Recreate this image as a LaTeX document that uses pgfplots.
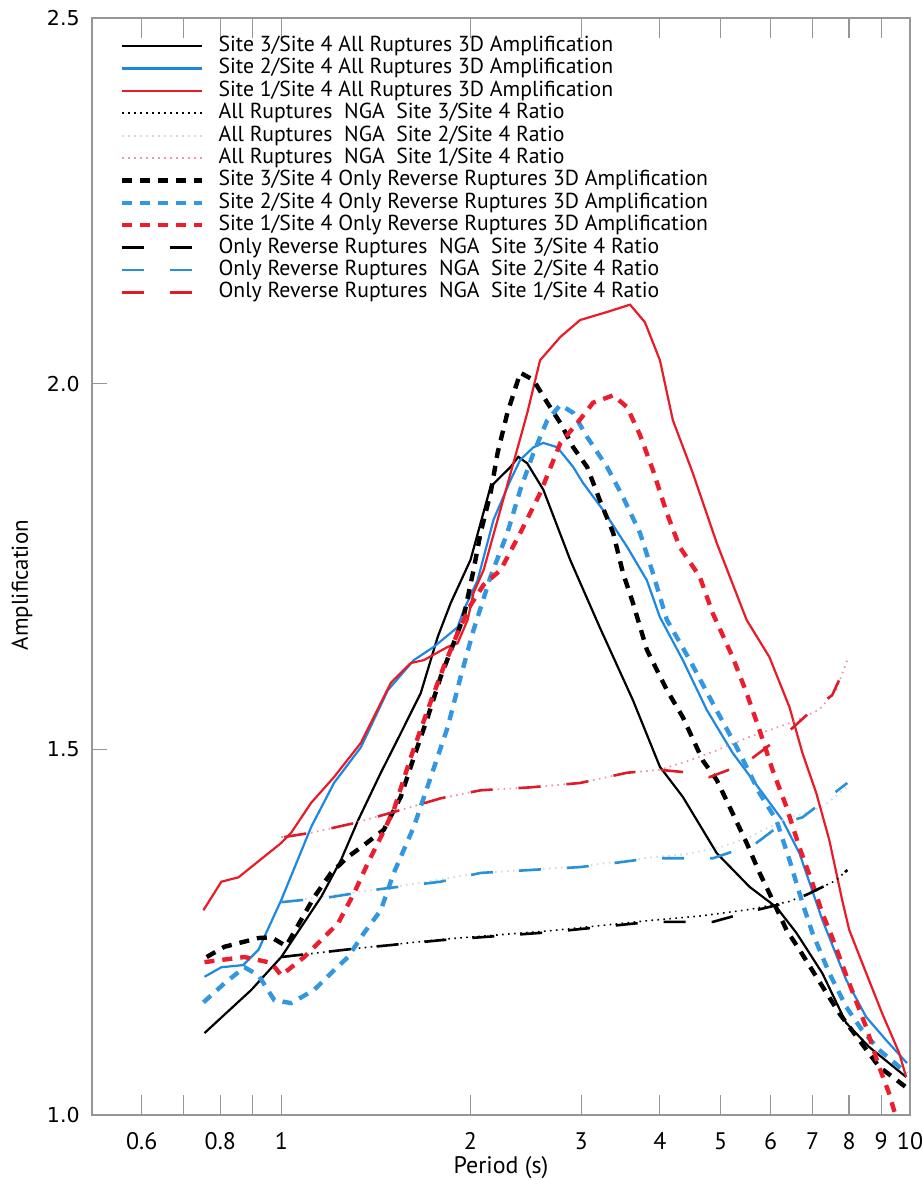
\documentclass[border=0pt]{standalone}
\usepackage{pgfplots}
\pgfplotsset{compat=1.18}
\usepackage{fontspec}
\setmainfont{PT Sans}
\newfontfamily\ytfont{DejaVu Sans}
\definecolor{cblue}{RGB}{30,136,225}
\definecolor{cred}{RGB}{232,28,40}
\definecolor{cbluedash}{RGB}{50,150,225}
\definecolor{creddash}{RGB}{236,30,45}
\definecolor{lightblue}{RGB}{205,218,238}
\definecolor{pinkdot}{RGB}{240,150,165}
\definecolor{ngablue}{RGB}{40,145,215}
\definecolor{ngared}{RGB}{222,28,40}
\definecolor{framegray}{RGB}{150,150,150}
\begin{document}
\begin{tikzpicture}
\begin{axis}[
  name=ax,
  scale only axis, width=409bp, height=548.5bp,
  xmode=log, xmin=0.5, xmax=10, ymin=1.0, ymax=2.5,
  xtick={0.6,0.7,0.8,0.9,1,2,3,4,5,6,7,8,9,10},
  xticklabels={0.6,,0.8,,1,2,3,4,5,6,7,8,9,10},
  minor xtick={},
  ytick={1,1.5,2,2.5},
  yticklabels={1.0,1.5,2.0,2.5},
  minor ytick={},
  tick align=inside,
  xtick pos=both, ytick pos=left,
  xtick style={framegray, line width=0.6bp, /pgfplots/major tick length=10bp},
  ytick style={framegray, line width=0.6bp, /pgfplots/major tick length=7.5bp},
  axis line style={framegray, line width=0.6bp},
  xticklabel style={font=\fontsize{12}{12}\selectfont, anchor=center, yshift=-13bp, inner sep=0pt},
  yticklabel style={font=\ytfont\fontsize{10.3}{10.3}\selectfont, anchor=east, inner sep=0pt, xshift=-6bp},
  xlabel={Period (s)},
  ylabel={Amplification},
  xlabel style={font=\fontsize{12}{12}\selectfont, at={(axis description cs:0.5,-0.0483)}, anchor=center, inner sep=0pt},
  ylabel style={font=\fontsize{11.5}{11.5}\selectfont, at={(axis description cs:-0.0856,0.483)}, anchor=center, inner sep=0pt},
  legend image code/.code={\draw[#1] (0bp,0bp) -- (40bp,0bp);},
  legend cell align=left,
  legend style={at={(axis description cs:0.034,0.985)}, anchor=north west, draw=none, fill=none,
    inner sep=0pt, font=\fontsize{10.9}{10.9}\selectfont, row sep=0pt,
    nodes={text height=7.7bp, text depth=2.2bp, inner ysep=0.65bp, inner xsep=0pt},
    /tikz/every odd column/.append style={column sep=7bp}},
]
% 1 Site 3/Site 4 All 3D
\addplot[black, line width=1.1bp] coordinates {(0.755,1.112)(0.896,1.171)(1.0,1.216)(1.157,1.298)(1.245,1.349)(1.325,1.403)(1.44,1.468)(1.549,1.522)(1.667,1.577)(1.774,1.654)(1.860,1.700)(2.0,1.759)(2.152,1.859)(2.315,1.886)(2.383,1.900)(2.462,1.891)(2.611,1.855)(2.881,1.759)(3.21,1.667)(3.626,1.567)(4.002,1.476)(4.352,1.435)(4.928,1.358)(5.556,1.312)(6.133,1.284)(6.597,1.249)(7.253,1.194)(7.916,1.126)(8.61,1.093)(9.86,1.052)};
\addlegendentry{Site 3/Site 4 All Ruptures 3D Amplification}
% 2 Site 2/Site 4 All 3D
\addplot[cblue, line width=1.1bp] coordinates {(0.755,1.189)(0.803,1.202)(0.870,1.205)(0.920,1.226)(1.0,1.294)(1.116,1.394)(1.213,1.454)(1.339,1.503)(1.478,1.581)(1.625,1.622)(1.748,1.640)(1.908,1.667)(1.950,1.690)(2.052,1.731)(2.176,1.814)(2.315,1.868)(2.40,1.896)(2.518,1.913)(2.611,1.919)(2.748,1.913)(2.913,1.886)(3.021,1.864)(3.251,1.827)(3.548,1.777)(3.816,1.731)(4.0,1.681)(4.352,1.622)(4.750,1.554)(5.224,1.495)(5.83,1.440)(6.27,1.403)(6.67,1.358)(7.253,1.267)(7.916,1.185)(8.518,1.134)(9.16,1.1025)(9.89,1.071)};
\addlegendentry{Site 2/Site 4 All Ruptures 3D Amplification}
% 3 Site 1/Site 4 All 3D
\addplot[cred, line width=1.1bp] coordinates {(0.752,1.280)(0.803,1.319)(0.855,1.325)(1.0,1.372)(1.037,1.386)(1.116,1.427)(1.213,1.462)(1.339,1.509)(1.494,1.591)(1.607,1.618)(1.686,1.622)(1.839,1.640)(1.908,1.645)(1.979,1.677)(2.022,1.714)(2.098,1.745)(2.341,1.892)(2.462,1.960)(2.58,2.032)(2.78,2.064)(2.988,2.087)(3.298,2.098)(3.587,2.108)(3.788,2.084)(4.002,2.032)(4.196,1.950)(4.513,1.878)(4.928,1.782)(5.497,1.677)(5.977,1.626)(6.43,1.558)(6.745,1.495)(7.096,1.440)(7.441,1.376)(7.80,1.294)(8.005,1.253)(8.518,1.194)(9.03,1.139)(9.61,1.085)(9.86,1.052)};
\addlegendentry{Site 1/Site 4 All Ruptures 3D Amplification}
% 4 All NGA Site 3
\addplot[black, line width=0.8bp, dash pattern=on 0.8bp off 2.2bp] coordinates {(1.0,1.216)(1.325,1.228)(1.793,1.240)(2.679,1.252)(3.858,1.266)(4.63,1.272)(5.556,1.281)(6.43,1.292)(6.92,1.303)(7.63,1.321)(7.95,1.335)};
\addlegendentry{All Ruptures\ \ NGA\ \ Site 3/Site 4 Ratio}
% 5 All NGA Site 2
\addplot[lightblue, line width=0.9bp, dash pattern=on 0.8bp off 2.2bp] coordinates {(1.0,1.291)(1.44,1.309)(2.075,1.331)(2.988,1.340)(3.858,1.352)(4.35,1.356)(4.99,1.366)(5.556,1.380)(6.27,1.403)(7.253,1.421)(7.92,1.448)};
\addlegendentry{All Ruptures\ \ NGA\ \ Site 2/Site 4 Ratio}
% 6 All NGA Site 1
\addplot[pinkdot, line width=0.9bp, dash pattern=on 0.8bp off 2.2bp] coordinates {(1.0,1.380)(1.116,1.386)(1.305,1.399)(1.549,1.417)(1.793,1.433)(2.075,1.444)(2.49,1.448)(2.988,1.454)(3.548,1.468)(4.0,1.472)(4.465,1.485)(4.94,1.499)(5.556,1.517)(6.50,1.537)(7.17,1.554)(7.63,1.581)(7.95,1.622)};
\addlegendentry{All Ruptures\ \ NGA\ \ Site 1/Site 4 Ratio}
% 7 Site 3 Reverse 3D
\addplot[black, line width=2.2bp, dash pattern=on 5bp off 4bp] coordinates {(0.761,1.216)(0.812,1.230)(0.920,1.242)(0.964,1.243)(1.018,1.231)(1.128,1.298)(1.200,1.331)(1.277,1.353)(1.339,1.366)(1.456,1.390)(1.549,1.435)(1.625,1.489)(1.710,1.544)(1.793,1.599)(1.880,1.645)(1.950,1.681)(2.022,1.745)(2.075,1.796)(2.152,1.850)(2.208,1.905)(2.289,1.960)(2.40,2.015)(2.518,2.005)(2.649,1.974)(2.78,1.946)(2.913,1.913)(3.066,1.886)(3.21,1.841)(3.372,1.796)(3.496,1.741)(3.626,1.700)(3.816,1.636)(4.105,1.581)(4.352,1.544)(4.68,1.485)(4.928,1.458)(5.167,1.421)(5.497,1.372)(5.765,1.331)(5.977,1.303)(6.362,1.253)(6.67,1.226)(7.096,1.189)(7.72,1.139)(8.30,1.1025)(8.93,1.066)(9.89,1.037)};
\addlegendentry{Site 3/Site 4 Only Reverse Ruptures 3D Amplification}
% 8 Site 2 Reverse 3D
\addplot[cbluedash, line width=2.2bp, dash pattern=on 5bp off 4bp] coordinates {(0.752,1.154)(0.812,1.180)(0.874,1.202)(0.920,1.191)(0.975,1.157)(1.037,1.153)(1.128,1.171)(1.200,1.194)(1.277,1.216)(1.354,1.249)(1.44,1.280)(1.510,1.331)(1.625,1.394)(1.729,1.462)(1.839,1.530)(1.929,1.599)(2.022,1.663)(2.152,1.736)(2.289,1.796)(2.40,1.855)(2.518,1.905)(2.649,1.950)(2.78,1.971)(2.913,1.960)(3.066,1.927)(3.298,1.886)(3.496,1.845)(3.72,1.796)(3.90,1.741)(4.105,1.677)(4.465,1.622)(4.856,1.563)(5.30,1.503)(5.765,1.440)(6.133,1.403)(6.43,1.349)(6.745,1.290)(6.996,1.249)(7.441,1.194)(7.916,1.148)(8.39,1.116)(8.93,1.089)(9.61,1.066)(9.89,1.057)};
\addlegendentry{Site 2/Site 4 Only Reverse Ruptures 3D Amplification}
% 9 Site 1 Reverse 3D
\addplot[creddash, line width=2.2bp, dash pattern=on 5bp off 4bp] coordinates {(0.755,1.209)(0.803,1.212)(0.874,1.216)(0.964,1.208)(1.0,1.191)(1.088,1.216)(1.157,1.239)(1.231,1.262)(1.305,1.303)(1.374,1.345)(1.44,1.380)(1.510,1.417)(1.607,1.489)(1.710,1.554)(1.813,1.613)(1.908,1.659)(2.0,1.697)(2.098,1.725)(2.232,1.745)(2.40,1.796)(2.58,1.850)(2.78,1.919)(2.956,1.946)(3.133,1.974)(3.372,1.984)(3.548,1.968)(3.72,1.930)(3.90,1.882)(4.105,1.823)(4.30,1.777)(4.63,1.736)(4.856,1.686)(5.224,1.626)(5.497,1.577)(5.765,1.526)(6.044,1.472)(6.362,1.421)(6.67,1.366)(6.996,1.317)(7.253,1.276)(7.52,1.243)(8.005,1.180)(8.518,1.120)(8.93,1.066)(9.26,1.030)(9.78,0.960)};
\addlegendentry{Site 1/Site 4 Only Reverse Ruptures 3D Amplification}
% 10 Reverse NGA Site 3
\addplot[black, line width=1.3bp, dash pattern=on 11bp off 13bp] coordinates {(1.0,1.216)(1.325,1.228)(1.793,1.239)(2.679,1.250)(3.858,1.264)(4.856,1.264)(5.556,1.278)(6.43,1.291)(6.92,1.303)(7.63,1.321)(7.95,1.335)};
\addlegendentry{Only Reverse Ruptures\ \ NGA\ \ Site 3/Site 4 Ratio}
% 11 Reverse NGA Site 2
\addplot[ngablue, line width=1.3bp, dash pattern=on 11bp off 13bp] coordinates {(1.0,1.291)(1.200,1.298)(1.44,1.309)(1.793,1.319)(2.075,1.331)(2.988,1.339)(3.42,1.345)(3.858,1.351)(4.856,1.351)(5.30,1.362)(5.70,1.372)(6.27,1.399)(6.745,1.407)(7.441,1.435)(7.95,1.454)};
\addlegendentry{Only Reverse Ruptures\ \ NGA\ \ Site 2/Site 4 Ratio}
% 12 Reverse NGA Site 1
\addplot[ngared, line width=1.3bp, dash pattern=on 11bp off 13bp] coordinates {(1.011,1.380)(1.116,1.386)(1.305,1.399)(1.549,1.417)(1.793,1.433)(2.075,1.444)(2.49,1.448)(2.988,1.454)(3.548,1.468)(4.0,1.472)(4.35,1.469)(4.80,1.462)(5.224,1.474)(5.556,1.485)(6.133,1.513)(6.50,1.529)(6.996,1.554)(7.52,1.574)(7.95,1.619)};
\addlegendentry{Only Reverse Ruptures\ \ NGA\ \ Site 1/Site 4 Ratio}
\end{axis}
\pgfresetboundingbox
\path[use as bounding box] ([shift={(-46bp,-32.5bp)}]ax.south west) rectangle ([shift={(6bp,9bp)}]ax.north east);
\end{tikzpicture}
\end{document}
